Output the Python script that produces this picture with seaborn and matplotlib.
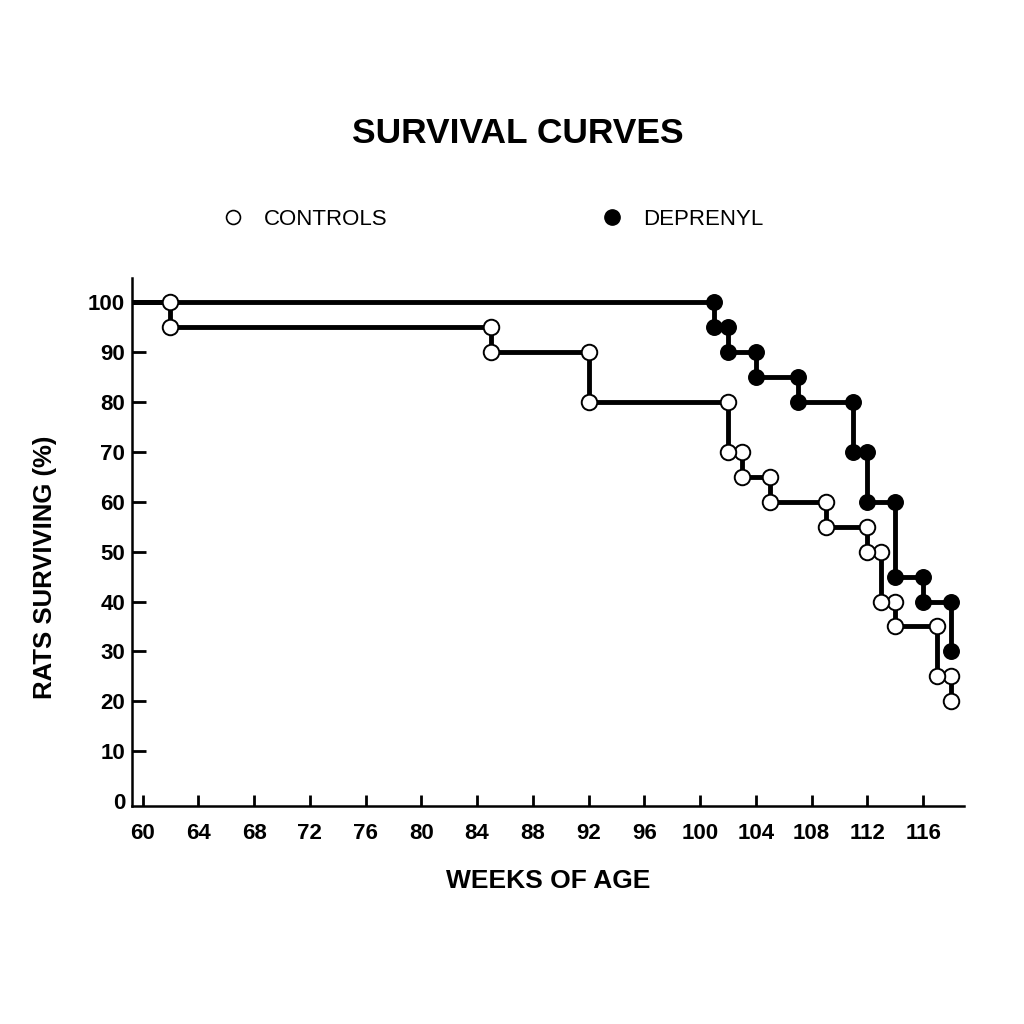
import numpy as np
import pandas as pd
import matplotlib
matplotlib.use("Agg")
import matplotlib.pyplot as plt
from matplotlib.lines import Line2D
import seaborn as sns

# weeks where a rat died and survival (%) right after
ctrl_weeks = [62, 85, 92, 102, 103, 105, 109, 112, 113, 114, 117, 118]
ctrl_surv = [95, 90, 80, 70, 65, 60, 55, 50, 40, 35, 25, 20]
dep_weeks = [101, 102, 104, 107, 111, 112, 114, 116, 118]
dep_surv = [95, 90, 85, 80, 70, 60, 45, 40, 30]

x_ticks = list(range(60, 117, 4))
y_ticks = list(range(0, 101, 10))
x_lim = (59.25, 118.9)
y_lim = (-1, 105)

sns.set_style("white")
plt.rcParams["font.family"] = ["Liberation Sans", "DejaVu Sans"]
plt.rcParams.update({"text.color": "black", "axes.labelcolor": "black",
                     "xtick.color": "black", "ytick.color": "black"})


def step_frame(weeks, surv, start):
    xs = [start] + list(weeks)
    ys = [100] + list(surv)
    return pd.DataFrame({"week": xs, "pct": ys})


def marker_frame(weeks, surv):
    before = [100] + list(surv[:-1])
    return pd.DataFrame({"week": list(weeks) * 2, "pct": before + list(surv)})


fig = plt.figure(figsize=(10.24, 10.24), dpi=100)
ax = fig.add_axes([0.129, 0.213, 0.812, 0.516])

ctrl_line = step_frame(ctrl_weeks, ctrl_surv, x_lim[0])
dep_line = step_frame(dep_weeks, dep_surv, x_lim[0])

for df in (ctrl_line, dep_line):
    sns.lineplot(data=df, x="week", y="pct", ax=ax, color="black", lw=3.5,
                 drawstyle="steps-post", estimator=None, sort=False, zorder=2)

sns.scatterplot(data=marker_frame(ctrl_weeks, ctrl_surv), x="week", y="pct", ax=ax,
                s=125, color="white", edgecolor="black", linewidth=1.4, zorder=3)
sns.scatterplot(data=marker_frame(dep_weeks, dep_surv), x="week", y="pct", ax=ax,
                s=125, color="black", edgecolor="black", linewidth=1.0, zorder=4)

ax.set_xlim(*x_lim)
ax.set_ylim(*y_lim)
ax.set_xticks(x_ticks)
ax.set_yticks(y_ticks)
ax.tick_params(axis="x", bottom=True, direction="in", length=8, width=2, pad=12,
               labelsize=16)
ax.tick_params(axis="y", left=True, direction="in", length=10, width=2, pad=5,
               labelsize=16)
for lab in ax.get_xticklabels() + ax.get_yticklabels():
    lab.set_fontweight("bold")
# the 0 tick sits on the x axis, no mark there
ax.yaxis.get_major_ticks()[0].tick1line.set_visible(False)

sns.despine(ax=ax)
for side in ("left", "bottom"):
    ax.spines[side].set_linewidth(1.8)
    ax.spines[side].set_color("black")

ax.set_xlabel("WEEKS OF AGE", fontsize=19, fontweight="bold", va="center")
ax.set_ylabel("RATS SURVIVING (%)", fontsize=18.5, fontweight="bold", va="center")
ax.xaxis.set_label_coords(0.5, -0.142)
ax.yaxis.set_label_coords(-0.105, 0.451)

fig.text(0.506, 0.870, "SURVIVAL CURVES", ha="center", va="center",
         fontsize=25.5, fontweight="bold")

handles = [
    Line2D([], [], ls="none", marker="o", ms=10, mfc="white", mec="black", mew=1.2),
    Line2D([], [], ls="none", marker="o", ms=11, mfc="black", mec="black"),
]
fig.legend(handles, ["CONTROLS", "DEPRENYL"], ncol=2, loc="center",
           bbox_to_anchor=(0.481, 0.786), frameon=False, fontsize=16,
           handlelength=1.0, handletextpad=0.9, columnspacing=9.6)

fig.savefig("out.png", dpi=100, facecolor="white")
